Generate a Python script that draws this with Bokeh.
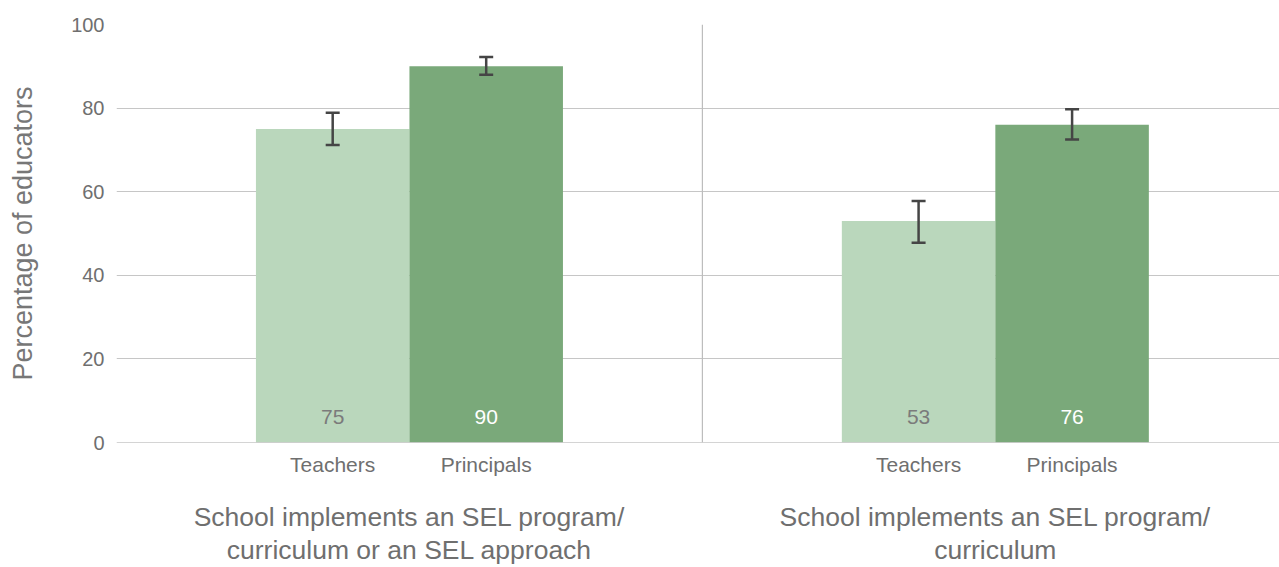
from bokeh.plotting import figure
from bokeh.models import (ColumnDataSource, Range1d, FixedTicker, Span, Whisker,
                          TeeHead, LinearAxis)
from bokeh.embed import file_html
from bokeh.resources import INLINE
from bokeh.core.properties import value

# ---------------- data ----------------
group_lines = [
    ["School implements an SEL program/", "curriculum or an SEL approach"],
    ["School implements an SEL program/", "curriculum"],
]
roles = ["Teachers", "Principals"]
teachers = [75, 53]
principals = [90, 76]
teachers_low = [71.2, 47.8]
teachers_high = [78.9, 57.8]
principals_low = [88.0, 72.5]
principals_high = [92.2, 79.7]
y_ticks = [0, 20, 40, 60, 80, 100]
y_title = "Percentage of educators"

# ---------------- style ----------------
FONT = "Liberation Sans"
TXT = "#6f6f6f"
BAR_W = 0.262
offsets = [-BAR_W / 2, BAR_W / 2]
bar_colors = ["#bad7bc", "#7aa97a"]
value_colors = ["#7b7b7b", "#ffffff"]
ERR = "#454545"


def plain_axis(ax, size, standoff):
    ax.axis_line_color = None
    ax.major_tick_line_color = None
    ax.minor_tick_line_color = None
    ax.major_tick_out = 0
    ax.major_tick_in = 0
    ax.minor_tick_out = 0
    ax.minor_tick_in = 0
    ax.major_label_standoff = standoff
    ax.major_label_text_font = FONT
    ax.major_label_text_font_size = size
    ax.major_label_text_color = TXT


p = figure(width=1279, height=567,
           x_range=Range1d(0, 1.985), y_range=Range1d(0, 100),
           output_backend="svg", toolbar_location=None,
           min_border_left=116, min_border_top=24, min_border_right=0,
           min_border_bottom=125)
p.outline_line_color = None
p.background_fill_color = "white"
p.border_fill_color = "white"

# grid
p.xgrid.visible = False
p.ygrid.ticker = FixedTicker(ticks=y_ticks)
p.ygrid.grid_line_color = "#c6c6c6"
p.ygrid.grid_line_width = 1

# y axis
p.yaxis.ticker = FixedTicker(ticks=y_ticks)
plain_axis(p.yaxis[0], "20px", 12)
p.yaxis.axis_label = y_title
p.yaxis.axis_label_text_font = FONT
p.yaxis.axis_label_text_font_size = "27px"
p.yaxis.axis_label_text_font_style = "normal"
p.yaxis.axis_label_text_color = "#777777"
p.yaxis.axis_label_standoff = 30

# bars, values, error bars
n_groups = len(group_lines)
role_values = [teachers, principals]
role_low = [teachers_low, principals_low]
role_high = [teachers_high, principals_high]
role_ticks = []
role_text = {}
for ri, role in enumerate(roles):
    xs = [round(gi + 0.5 + offsets[ri], 4) for gi in range(n_groups)]
    src = ColumnDataSource(dict(
        x=xs,
        top=role_values[ri],
        low=role_low[ri],
        high=role_high[ri],
        label=[str(v) for v in role_values[ri]],
    ))
    p.vbar(x="x", top="top", bottom=0, width=BAR_W, source=src,
           fill_color=bar_colors[ri], line_color=None)
    p.text(x="x", y=0, text="label", source=src,
           text_font=value(FONT), text_font_size="21px",
           text_color=value_colors[ri], text_align="center",
           text_baseline="alphabetic", y_offset=-26)
    w = Whisker(source=src, base="x", upper="high", lower="low",
                dimension="height", line_color=ERR, line_width=2.5,
                upper_head=TeeHead(size=14, line_color=ERR, line_width=2.5),
                lower_head=TeeHead(size=14, line_color=ERR, line_width=2.5),
                level="overlay")
    p.add_layout(w)
    for x in xs:
        role_ticks.append(x)
        role_text[x] = role

# x axis 1: role labels
p.xaxis.ticker = FixedTicker(ticks=sorted(role_ticks))
p.xaxis.major_label_overrides = role_text
plain_axis(p.xaxis[0], "21px", 10)

# x axes 2 and 3: the two lines of each group label
group_x = [gi + 0.5 for gi in range(n_groups)]
for li, standoff in enumerate([23, 0]):
    ticks = [gx for gx, lines in zip(group_x, group_lines) if len(lines) > li]
    texts = {gx: lines[li] for gx, lines in zip(group_x, group_lines)
             if len(lines) > li}
    ax = LinearAxis(ticker=FixedTicker(ticks=ticks),
                    major_label_overrides=texts)
    plain_axis(ax, "26.5px", standoff)
    p.add_layout(ax, "below")

# baseline and group separators
p.add_layout(Span(location=0, dimension="width", line_color="#a9a9a9",
                  line_width=1.2))
for gi in range(1, n_groups):
    p.add_layout(Span(location=gi, dimension="height", line_color="#bdbdbd",
                      line_width=1.2))

open("out.html", "w").write(file_html(p, INLINE))
